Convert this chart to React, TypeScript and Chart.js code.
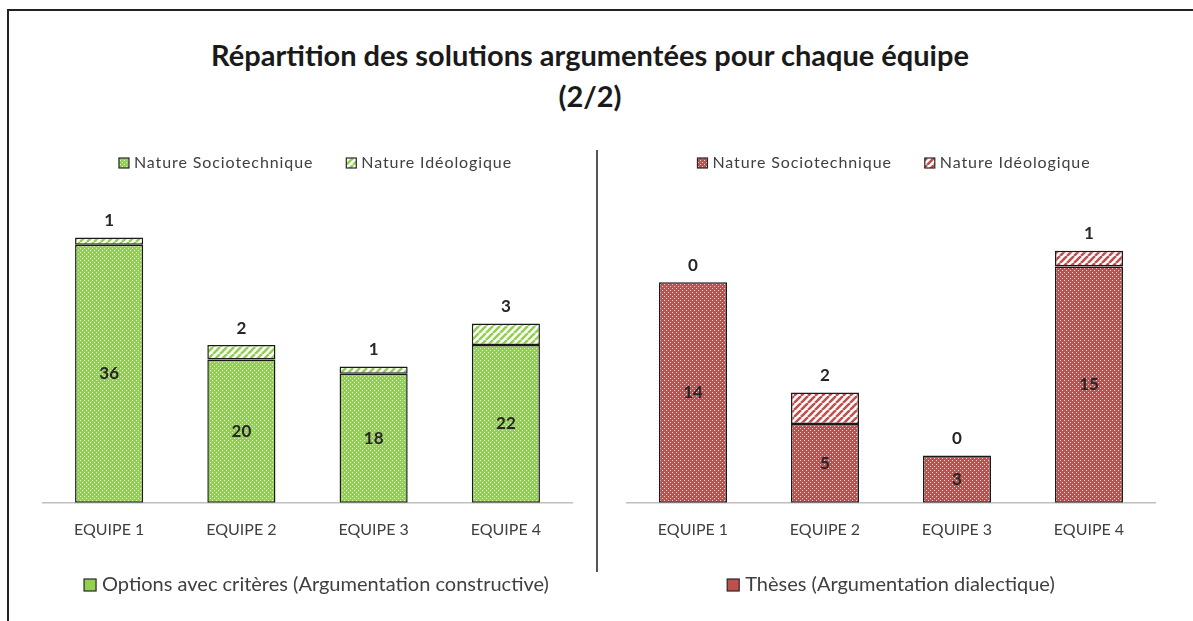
import React, { useEffect, useRef } from 'react';
import { Chart, registerables } from 'chart.js';
Chart.register(...registerables);

const categories = ['EQUIPE 1', 'EQUIPE 2', 'EQUIPE 3', 'EQUIPE 4'];
const seriesNames = ['Nature Sociotechnique', 'Nature Idéologique'];
const optionsSocio = [36, 20, 18, 22];
const optionsIdeo = [1, 2, 1, 3];
const thesesSocio = [14, 5, 3, 15];
const thesesIdeo = [0, 2, 0, 1];
const groupLeft = 'Options avec critères (Argumentation constructive)';
const groupRight = 'Thèses (Argumentation dialectique)';
const titleLines = ['Répartition des solutions argumentées pour chaque équipe', '(2/2)'];

const FONT = 'Lato';

function dotPattern(base: string, dot: string) {
  const c = document.createElement('canvas');
  c.width = 4; c.height = 4;
  const g = c.getContext('2d')!;
  g.fillStyle = base; g.fillRect(0, 0, 4, 4);
  g.fillStyle = dot; g.fillRect(0, 0, 1, 1); g.fillRect(2, 2, 1, 1);
  return g.createPattern(c, 'repeat')!;
}

function stripePattern(color: string) {
  const s = 7;
  const c = document.createElement('canvas');
  c.width = s; c.height = s;
  const g = c.getContext('2d')!;
  g.fillStyle = '#ffffff'; g.fillRect(0, 0, s, s);
  g.strokeStyle = color; g.lineWidth = 2.6;
  for (const o of [-s, 0, s]) {
    g.beginPath(); g.moveTo(o, s); g.lineTo(o + s, 0); g.stroke();
  }
  return g.createPattern(c, 'repeat')!;
}

type PanelProps = {
  socio: number[]; ideo: number[]; base: string; dot: string; groupName: string;
  yMax: number; left: number; width: number; padLeft: number; padRight: number;
  topShift: number; bottomShift: number;
};

function Panel(p: PanelProps) {
  const ref = useRef<HTMLCanvasElement>(null);
  const H = 491;
  useEffect(() => {
    const dotPat = dotPattern(p.base, p.dot);
    const stripePat = stripePattern(p.base);
    const fills = [dotPat, stripePat];
    const custom = {
      id: 'custom',
      afterDatasetsDraw(chart: any) {
        const ctx = chart.ctx as CanvasRenderingContext2D;
        const area = chart.chartArea;
        ctx.save();
        ctx.font = `bold 17px ${FONT}`;
        ctx.fillStyle = '#262626';
        ctx.textAlign = 'center';
        ctx.textBaseline = 'middle';
        const m0 = chart.getDatasetMeta(0);
        const m1 = chart.getDatasetMeta(1);
        m0.data.forEach((el: any, i: number) => {
          ctx.fillText(String(chart.data.datasets[0].data[i]), el.x, (el.y + el.base) / 2);
        });
        m1.data.forEach((el: any, i: number) => {
          ctx.fillText(String(chart.data.datasets[1].data[i]), el.x, el.y - 17);
        });
        // top legend
        const cx = (area.left + area.right) / 2;
        ctx.font = `16px ${FONT}`;
        (ctx as any).letterSpacing = '0.9px';
        const box = 10, gap = 5, spacing = 33;
        const widths = seriesNames.map((n) => ctx.measureText(n).width);
        const total = widths.reduce((a, w) => a + box + gap + w, 0) + spacing;
        let x = cx + p.topShift - total / 2;
        const ly = 33;
        ctx.textAlign = 'left';
        seriesNames.forEach((n, i) => {
          ctx.fillStyle = fills[i] as any;
          ctx.fillRect(x, ly - box / 2, box, box);
          ctx.strokeStyle = '#262626'; ctx.lineWidth = 1.2;
          ctx.strokeRect(x, ly - box / 2, box, box);
          ctx.fillStyle = '#404040';
          ctx.fillText(n, x + box + gap, ly);
          x += box + gap + widths[i] + spacing;
        });
        (ctx as any).letterSpacing = '0px';
        // bottom legend (group)
        ctx.font = `20px ${FONT}`;
        const gw = ctx.measureText(p.groupName).width;
        const gb = 12, gg = 6;
        const gx = cx + p.bottomShift - (gb + gg + gw) / 2;
        const gy = 455;
        ctx.fillStyle = p.base;
        ctx.fillRect(gx, gy - gb / 2, gb, gb);
        ctx.strokeStyle = '#262626'; ctx.lineWidth = 1.2;
        ctx.strokeRect(gx, gy - gb / 2, gb, gb);
        ctx.fillStyle = '#404040';
        ctx.fillText(p.groupName, gx + gb + gg, gy);
        ctx.restore();
      },
    };
    const common = {
      borderColor: '#1a1a1a', borderWidth: 1.5, borderSkipped: false,
      barPercentage: 0.515, categoryPercentage: 1,
    };
    const chart = new Chart(ref.current!, {
      type: 'bar',
      data: {
        labels: categories,
        datasets: [
          { label: seriesNames[0], data: p.socio, backgroundColor: dotPat, ...common } as any,
          { label: seriesNames[1], data: p.ideo, backgroundColor: stripePat, ...common } as any,
        ],
      },
      options: {
        animation: false,
        responsive: false,
        maintainAspectRatio: false,
        layout: { padding: { left: p.padLeft, right: p.padRight, top: 86, bottom: 65 } },
        plugins: { legend: { display: false }, tooltip: { enabled: false } },
        scales: {
          x: {
            stacked: true,
            grid: { display: false, drawTicks: false },
            border: { display: true, color: '#BFBFBF', width: 1.5 },
            ticks: { padding: 17, color: '#404040', font: { family: FONT, size: 16 } },
          },
          y: { stacked: true, display: false, min: 0, max: p.yMax },
        },
      } as any,
      plugins: [custom],
    });
    return () => chart.destroy();
  }, []);
  return (
    <canvas
      ref={ref}
      width={p.width}
      height={H}
      style={{ position: 'absolute', left: p.left, top: 130, width: p.width, height: H }}
    />
  );
}

export default function App() {
  return (
    <div style={{ position: 'absolute', left: 0, top: 0, width: 1193, height: 621, background: '#fff', overflow: 'hidden' }}>
      <div style={{ position: 'absolute', left: 7, top: 9, width: 1190, height: 620, borderTop: '2px solid #222', borderLeft: '2px solid #222' }} />
      <div style={{
        position: 'absolute', left: 0, top: 34, width: 1180, textAlign: 'center',
        font: `bold 29px ${FONT}`, lineHeight: '41px', color: '#1a1a1a',
      }}>
        {titleLines.map((t, i) => <div key={i}>{t}</div>)}
      </div>
      <div style={{ position: 'absolute', left: 596, top: 150, width: 1.5, height: 422, background: '#555' }} />
      <Panel socio={optionsSocio} ideo={optionsIdeo} base="#92D050" dot="#E3F4D0" groupName={groupLeft}
        yMax={40} left={10} width={586} padLeft={33} padRight={24} topShift={8} bottomShift={9} />
      <Panel socio={thesesSocio} ideo={thesesIdeo} base="#C0504D" dot="#F2D4D3" groupName={groupRight}
        yMax={18.2} left={598} width={595} padLeft={29} padRight={38} topShift={3} bottomShift={0} />
    </div>
  );
}
